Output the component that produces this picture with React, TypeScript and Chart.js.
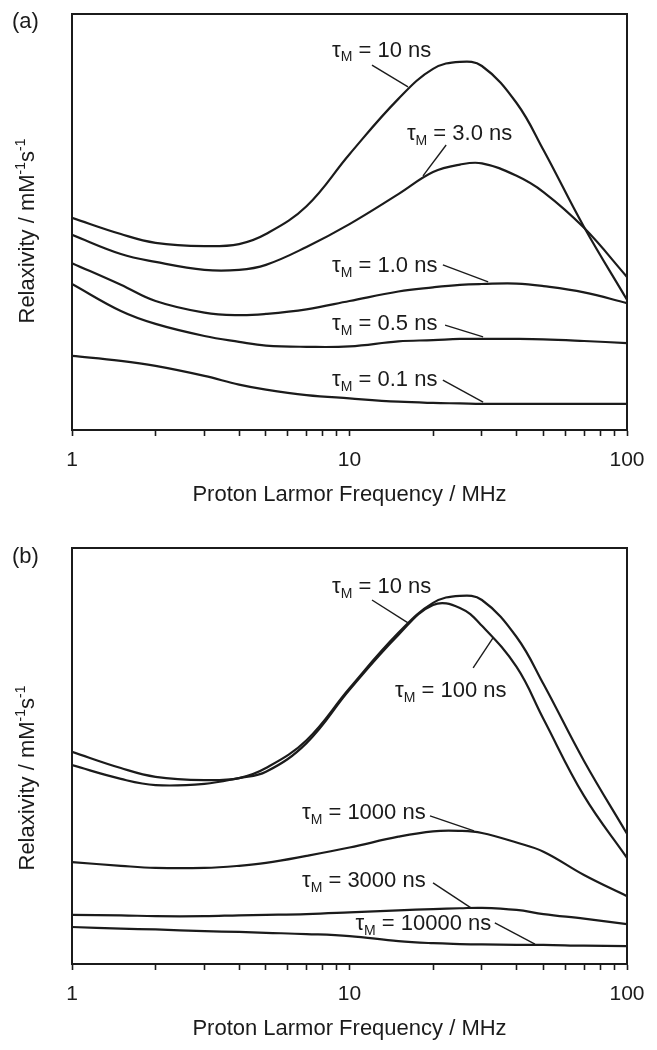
import React, { useEffect, useRef } from "react";
import { Chart, registerables } from "chart.js";

Chart.register(...registerables);

const FONT = "'Liberation Sans', Arial, Helvetica, sans-serif";
const INK = "#1b1b1b";

// Shared frequency grid (MHz)
const freqs = [1, 1.5, 2, 3, 4, 5, 7, 10, 15, 20, 25, 30, 40, 50, 70, 100];
const tickValues = [1, 2, 3, 4, 5, 6, 7, 8, 9, 10, 20, 30, 40, 50, 60, 70, 80, 90, 100];
const tickLabels = [1, 10, 100];

// Panel (a) — relaxivity (arbitrary units, axis 0–100)
const a_tau10 = [51.0, 47.1, 45.0, 44.2, 44.7, 47.1, 53.8, 66.3, 79.6, 86.8, 88.5, 87.5, 78.6, 67.3, 48.8, 31.3];
const a_tau3 = [46.9, 42.3, 40.4, 38.5, 38.5, 39.7, 44.0, 49.5, 56.7, 62.0, 63.8, 64.1, 61.1, 57.2, 48.6, 36.8];
const a_tau1 = [40.1, 34.9, 31.0, 28.2, 27.6, 27.9, 29.0, 31.0, 33.3, 34.3, 34.9, 35.1, 35.2, 34.6, 33.1, 30.5];
const a_tau05 = [35.1, 28.6, 25.5, 22.6, 21.2, 20.3, 20.0, 20.1, 21.3, 21.6, 21.9, 21.9, 21.9, 21.8, 21.4, 20.9];
const a_tau01 = [17.8, 16.6, 15.4, 13.0, 10.9, 9.7, 8.4, 7.6, 6.8, 6.5, 6.4, 6.3, 6.3, 6.3, 6.3, 6.3];

// Panel (b)
const b_tau10 = [51.0, 47.1, 45.0, 44.2, 44.7, 47.1, 53.8, 66.3, 79.6, 86.8, 88.5, 87.5, 78.6, 67.3, 48.8, 31.3];
const b_tau100 = [47.8, 44.5, 43.0, 43.3, 44.7, 46.2, 53.1, 65.9, 79.1, 86.3, 85.6, 81.3, 71.4, 58.9, 40.4, 25.5];
const b_tau1000 = [24.5, 23.6, 23.1, 23.1, 23.6, 24.3, 26.0, 28.0, 30.6, 31.9, 32.0, 31.5, 29.2, 27.0, 21.4, 16.3];
const b_tau3000 = [11.8, 11.7, 11.5, 11.5, 11.7, 11.8, 12.0, 12.4, 12.9, 13.2, 13.4, 13.5, 13.0, 12.0, 10.9, 9.6];
const b_tau10000 = [8.9, 8.5, 8.3, 7.9, 7.7, 7.5, 7.2, 6.7, 5.5, 5.0, 4.8, 4.7, 4.6, 4.6, 4.4, 4.3];

// Curve labels: text, text anchor (freq, value), leader start, leader end (on curve)
const a_labelText = ["10 ns", "3.0 ns", "1.0 ns", "0.5 ns", "0.1 ns"];
const a_labelAt = [[8.65, 91.2], [16.1, 71.2], [8.65, 39.4], [8.65, 25.5], [8.65, 12.0]];
const a_leaderFrom = [[12.05, 87.7], [22.3, 68.5], [21.7, 39.7], [22.1, 25.2], [21.7, 12.0]];
const a_leaderTo = [[16.25, 82.5], [18.4, 61.1], [31.6, 35.6], [30.3, 22.4], [30.3, 6.7]];

const b_labelText = ["10 ns", "100 ns", "1000 ns", "3000 ns", "10000 ns"];
const b_labelAt = [[8.65, 90.6], [14.6, 65.6], [6.74, 36.3], [6.74, 20.0], [10.5, 9.6]];
const b_leaderFrom = [[12.05, 87.5], [27.9, 71.2], [19.5, 35.6], [20.0, 19.5], [33.4, 9.9]];
const b_leaderTo = [[16.25, 82.0], [32.9, 78.4], [28.1, 32.0], [27.4, 13.5], [46.6, 4.8]];

const overlayPlugin = {
  id: "overlay",
  afterDraw(chart: any, _args: any, opts: any) {
    const { ctx, chartArea } = chart;
    const xs = chart.scales.x;
    const ys = chart.scales.y;
    ctx.save();
    // frame
    ctx.strokeStyle = INK;
    ctx.lineWidth = 2;
    ctx.strokeRect(chartArea.left, chartArea.top, chartArea.right - chartArea.left, chartArea.bottom - chartArea.top);

    // panel letter
    ctx.fillStyle = INK;
    ctx.font = `22px ${FONT}`;
    ctx.textBaseline = "middle";
    ctx.textAlign = "left";
    ctx.fillText(opts.panel, 12, opts.panelY);

    // y title with superscripts, rotated
    const parts: [string, boolean][] = [
      ["Relaxivity / mM", false],
      ["-1", true],
      ["s", false],
      ["-1", true],
    ];
    const mainFont = `22px ${FONT}`;
    const supFont = `14px ${FONT}`;
    let total = 0;
    for (const [t, sup] of parts) {
      ctx.font = sup ? supFont : mainFont;
      total += ctx.measureText(t).width;
    }
    const cy = (chartArea.top + chartArea.bottom) / 2 + opts.titleShift;
    ctx.save();
    ctx.translate(34, cy);
    ctx.rotate(-Math.PI / 2);
    ctx.textBaseline = "alphabetic";
    ctx.textAlign = "left";
    let cx = -total / 2;
    for (const [t, sup] of parts) {
      ctx.font = sup ? supFont : mainFont;
      ctx.fillText(t, cx, sup ? -9 : 0);
      cx += ctx.measureText(t).width;
    }
    ctx.restore();

    // curve labels and leader lines
    ctx.lineWidth = 1.4;
    ctx.strokeStyle = INK;
    const n = opts.text.length;
    for (let i = 0; i < n; i++) {
      const [fx1, vy1] = opts.from[i];
      const [fx2, vy2] = opts.to[i];
      ctx.beginPath();
      ctx.moveTo(xs.getPixelForValue(fx1), ys.getPixelForValue(vy1));
      ctx.lineTo(xs.getPixelForValue(fx2), ys.getPixelForValue(vy2));
      ctx.stroke();

      const [tf, tv] = opts.at[i];
      let px = xs.getPixelForValue(tf);
      const py = ys.getPixelForValue(tv);
      ctx.textBaseline = "middle";
      ctx.textAlign = "left";
      ctx.font = `22px ${FONT}`;
      ctx.fillText("τ", px, py);
      px += ctx.measureText("τ").width;
      ctx.font = `14px ${FONT}`;
      ctx.fillText("M", px, py + 7);
      px += ctx.measureText("M").width;
      ctx.font = `22px ${FONT}`;
      ctx.fillText(" = " + opts.text[i], px, py);
    }
    ctx.restore();
  },
};

function makeDatasets(series: number[][]) {
  return series.map((vals) => ({
    data: freqs.map((f, i) => ({ x: f, y: vals[i] })),
    borderColor: INK,
    borderWidth: 2.2,
    pointRadius: 0,
    fill: false,
    tension: 0.4,
    cubicInterpolationMode: "default" as const,
  }));
}

function makeConfig(series: number[][], overlay: any) {
  return {
    type: "line" as const,
    data: { datasets: makeDatasets(series) },
    plugins: [overlayPlugin],
    options: {
      responsive: false,
      maintainAspectRatio: false,
      devicePixelRatio: 1,
      animation: false as const,
      layout: { padding: { top: 14, right: 30, left: 0, bottom: 0 } },
      elements: { line: { capBezierPoints: true } },
      plugins: {
        legend: { display: false },
        tooltip: { enabled: false },
        overlay,
      },
      scales: {
        x: {
          type: "logarithmic" as const,
          position: "bottom" as const,
          min: 1,
          max: 100,
          afterBuildTicks: (s: any) => {
            s.ticks = tickValues.map((v) => ({ value: v, major: tickLabels.includes(v) }));
          },
          afterFit: (s: any) => {
            s.height = 86;
          },
          ticks: {
            autoSkip: false,
            maxRotation: 0,
            minRotation: 0,
            padding: 12,
            color: INK,
            font: { family: FONT, size: 21 },
            callback: (v: any) => (tickLabels.includes(Number(v)) ? String(v) : ""),
          },
          grid: {
            display: true,
            drawOnChartArea: false,
            drawTicks: true,
            tickLength: 6,
            tickColor: INK,
            tickWidth: 1.6,
            color: INK,
          },
          border: { display: true, color: INK, width: 2 },
          title: {
            display: true,
            text: "Proton Larmor Frequency / MHz",
            color: INK,
            font: { family: FONT, size: 22 },
            padding: { top: 0, bottom: 8 },
          },
        },
        y: {
          type: "linear" as const,
          min: 0,
          max: 100,
          afterFit: (s: any) => {
            s.width = 72;
          },
          ticks: { display: false },
          grid: { display: false },
          border: { display: true, color: INK, width: 2 },
          title: { display: false },
        },
      },
    },
  };
}

function Panel({ series, overlay, top }: { series: number[][]; overlay: any; top: number }) {
  const ref = useRef<HTMLCanvasElement | null>(null);
  useEffect(() => {
    if (!ref.current) return;
    const chart = new Chart(ref.current, makeConfig(series, overlay) as any);
    return () => chart.destroy();
  }, []);
  return (
    <canvas
      ref={ref}
      width={657}
      height={516}
      style={{ position: "absolute", left: 0, top, width: 657, height: 516, display: "block" }}
    />
  );
}

export default function App() {
  return (
    <div
      style={{
        position: "absolute",
        left: 0,
        top: 0,
        width: 657,
        height: 1050,
        overflow: "hidden",
        background: "#fff",
      }}
    >
      <Panel
        top={0}
        series={[a_tau10, a_tau3, a_tau1, a_tau05, a_tau01]}
        overlay={{
          panel: "(a)",
          panelY: 22,
          titleShift: 9,
          text: a_labelText,
          at: a_labelAt,
          from: a_leaderFrom,
          to: a_leaderTo,
        }}
      />
      <Panel
        top={534}
        series={[b_tau10, b_tau100, b_tau1000, b_tau3000, b_tau10000]}
        overlay={{
          panel: "(b)",
          panelY: 23,
          titleShift: 22,
          text: b_labelText,
          at: b_labelAt,
          from: b_leaderFrom,
          to: b_leaderTo,
        }}
      />
    </div>
  );
}
